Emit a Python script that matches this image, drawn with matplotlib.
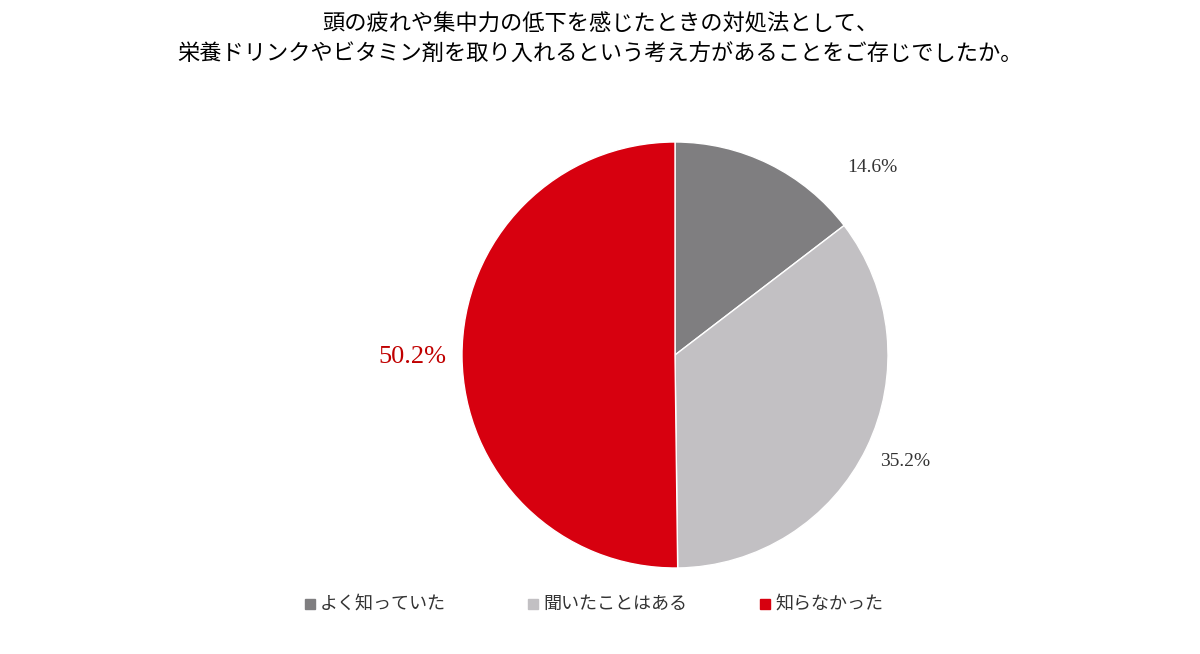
import matplotlib
matplotlib.use("Agg")
import matplotlib.pyplot as plt

categories = ["よく知っていた", "聞いたことはある", "知らなかった"]
values = [14.6, 35.2, 50.2]
colors = ["#7f7e80", "#c2c0c3", "#d7000f"]
title = "頭の疲れや集中力の低下を感じたときの対処法として、\n栄養ドリンクやビタミン剤を取り入れるという考え方があることをご存じでしたか。"

plt.rcParams['font.family'] = ['Noto Sans CJK JP', 'DejaVu Sans']
fig = plt.figure(figsize=(12, 6.54), dpi=100)
ax = fig.add_axes([0.385, 0.1315, 0.355, 0.6514])
ax.pie(values, colors=colors, startangle=90, counterclock=False,
       wedgeprops=dict(linewidth=1, edgecolor="white"))
ax.set_xlim(-1, 1)
ax.set_ylim(-1, 1)
ax.set_aspect("equal")

fig.text(0.5, 0.94, title, ha="center", va="center", fontsize=16, linespacing=1.45)

lab_pos = [(872, 167), (905, 462), (412, 357)]
lab_col = ["#333333", "#333333", "#c00000"]
lab_size = [14, 14, 19]
for v, (x, y), c, s in zip(values, lab_pos, lab_col, lab_size):
    fig.text(x / 1200, 1 - y / 654, f"{v:.1f}%", ha="center", va="center",
             fontsize=s, color=c, family=["Liberation Serif"])

leg_x = [310, 533, 765]
for name, col, x in zip(categories, colors, leg_x):
    fig.patches.append(plt.Rectangle(((x - 5) / 1200, 1 - 609 / 654), 10 / 1200, 10 / 654,
                                     transform=fig.transFigure, color=col))
    fig.text((x + 10) / 1200, 1 - 604 / 654, name, ha="left", va="center", fontsize=13, color="#333333")

fig.savefig("out.png", dpi=100)
